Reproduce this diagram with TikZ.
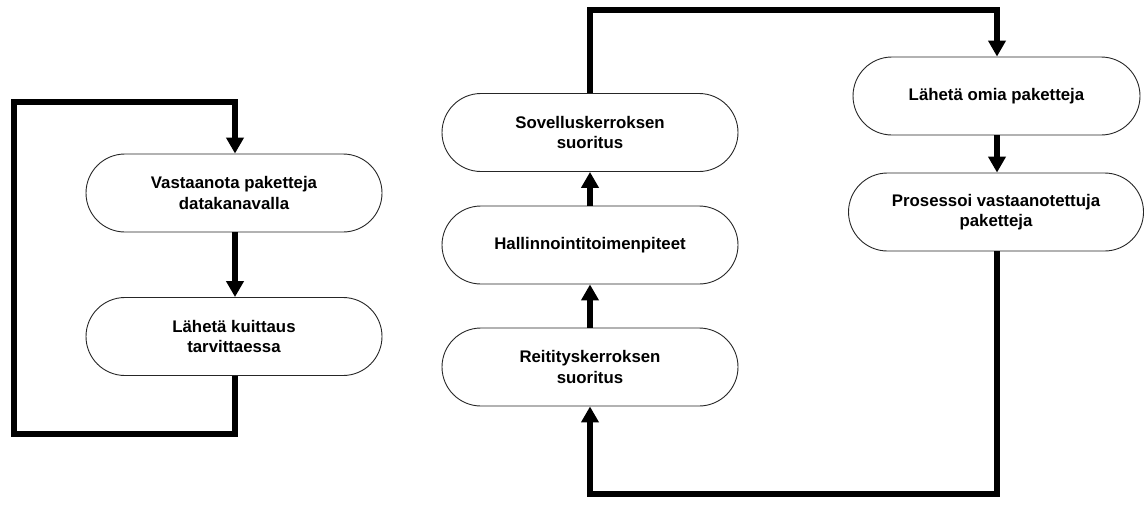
\documentclass[tikz,border=0pt]{standalone}
\usepackage{fontspec}
\setmainfont{Liberation Sans}
\usetikzlibrary{arrows.meta}
\begin{document}
\begin{tikzpicture}[x=1pt,y=-1pt,
  stepbox/.style={draw=black!85, line width=0.9pt, fill=white, rounded corners=39pt,
    minimum height=78pt, inner sep=0pt, align=center,
    font=\fontsize{16.8}{20.5}\selectfont\bfseries},
  flow/.style={line width=5.5pt, line join=miter, -{Triangle[width=17pt,length=16pt]}},
]
\useasboundingbox (0,0) rectangle (1147,506);

% left loop
\node[stepbox, minimum width=296pt] (recv) at (234,193) {Vastaanota paketteja\\datakanavalla};
\node[stepbox, minimum width=296pt] (ack) at (234,336.5) {Lähetä kuittaus\\tarvittaessa};

% middle column
\node[stepbox, minimum width=296pt] (app) at (590,132.5) {Sovelluskerroksen\\suoritus};
\node[stepbox, minimum width=296pt] (mgmt) at (590,245) {Hallinnointitoimenpiteet};
\node[stepbox, minimum width=296pt] (route) at (590,367) {Reitityskerroksen\\suoritus};

% right column
\node[stepbox, minimum width=287pt] (send) at (996.5,96) {Lähetä omia paketteja};
\node[stepbox, minimum width=295pt] (proc) at (996,212) {Prosessoi vastaanotettuja\\paketteja};

\coordinate (l1) at (235,434);
\coordinate (l2) at (14,434);
\coordinate (l3) at (14,102);
\coordinate (l4) at (235,102);
\coordinate (t1) at (590,10);
\coordinate (t2) at (997,10);
\coordinate (b1) at (997,494);
\coordinate (b2) at (590,494);

% connectors
\draw[flow] (recv.south -| l1) -- (ack.north -| l1);
\draw[flow] (ack.south -| l1) -- (l1) -- (l2) -- (l3) -- (l4) -- (recv.north -| l4);

\draw[flow] (route.north) -- (mgmt.south);
\draw[flow] (mgmt.north) -- (app.south);
\draw[flow] (app.north) -- (t1) -- (t2) -- (send.north -| t2);
\draw[flow] (send.south -| t2) -- (proc.north -| t2);
\draw[flow] (proc.south -| b1) -- (b1) -- (b2) -- (route.south);
\end{tikzpicture}
\end{document}
